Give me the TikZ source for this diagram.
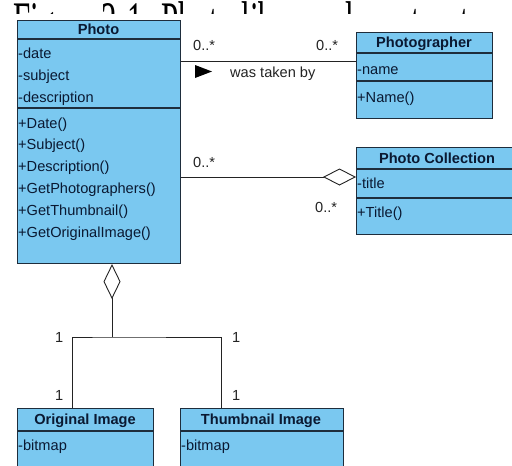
\documentclass[tikz,border=0pt]{standalone}
\usepackage{fontspec}
\setmainfont{Liberation Sans}
\newfontfamily\capfont{Liberation Serif}
\usetikzlibrary{arrows.meta}
\definecolor{clsfill}{RGB}{122,200,240}
\definecolor{clsline}{RGB}{30,45,60}
\definecolor{clstext}{RGB}{10,25,50}
\definecolor{linkcol}{RGB}{35,35,35}
\tikzset{
  cls/.style={draw=clsline, fill=clsfill, line width=1.1pt, inner sep=0pt, anchor=north west},
  compsep/.style={draw=clsline, line width=1.1pt},
  member/.style={anchor=base west, inner sep=0pt, text=clstext, font=\fontsize{14.6}{17}\selectfont},
  clstitle/.style={anchor=base, inner sep=0pt, text=clstext, font=\fontsize{14.6}{17}\selectfont\bfseries},
  link/.style={draw=linkcol, line width=0.9pt},
  mult/.style={anchor=base west, inner sep=0pt, text=linkcol, font=\fontsize{14.6}{17}\selectfont},
}
\begin{document}
\begin{tikzpicture}[x=1pt, y=-1pt]
\useasboundingbox (0,0) rectangle (512,466);
\clip (0,0) rectangle (512,466);
\fill[white] (0,0) rectangle (512,466);

% caption of the figure; only its upper strip shows above the diagram
\begin{scope}
  \clip (0,0) rectangle (512,13);
  \node[anchor=base west, inner sep=0pt, font=\capfont\fontsize{31}{36}\selectfont] (caption) at (13,42)
    {\smash{\scalebox{1}[1.9]{Figure 2-1. Photo library class structure}}};
\end{scope}

% ---- class Photo
\node[cls, minimum width=163pt, minimum height=243pt] (photo) at (17,20) {};
\draw[compsep] (17,39) -- (180,39);
\draw[compsep] (17,108) -- (180,108);
\node[clstitle] (photoT) at (98.5,34.5) {Photo};
\node[member] (pa1) at (18,58) {-date};
\node[member] (pa2) at (18,80) {-subject};
\node[member] (pa3) at (18,102) {-description};
\node[member] (pm1) at (18,128) {+Date()};
\node[member] (pm2) at (18,149.8) {+Subject()};
\node[member] (pm3) at (18,171.6) {+Description()};
\node[member] (pm4) at (18,193.4) {+GetPhotographers()};
\node[member] (pm5) at (18,215.2) {+GetThumbnail()};
\node[member] (pm6) at (18,237) {+GetOriginalImage()};

% ---- class Photographer
\node[cls, minimum width=136pt, minimum height=86pt] (pgr) at (356,32) {};
\draw[compsep] (356,53) -- (492,53);
\draw[compsep] (356,81) -- (492,81);
\node[clstitle] (pgrT) at (424,47.5) {Photographer};
\node[member] (pgra) at (357,74) {-name};
\node[member] (pgrm) at (357,102) {+Name()};

% ---- class Photo Collection
\node[cls, minimum width=164pt, minimum height=87pt] (pcol) at (356,147) {};
\draw[compsep] (356,169) -- (520,169);
\draw[compsep] (356,198) -- (520,198);
\node[clstitle] (pcolT) at (437,163) {Photo Collection};
\node[member] (pcola) at (357,188) {-title};
\node[member] (pcolm) at (357,217) {+Title()};

% ---- class Original Image
\node[cls, minimum width=136pt, minimum height=72pt] (orig) at (17,408) {};
\draw[compsep] (17,431) -- (153,431);
\node[clstitle] (origT) at (85,424.5) {Original Image};
\node[member] (origa) at (18,450) {-bitmap};

% ---- class Thumbnail Image
\node[cls, minimum width=163pt, minimum height=72pt] (thumb) at (180,408) {};
\draw[compsep] (180,431) -- (343,431);
\node[clstitle] (thumbT) at (261,424.5) {Thumbnail Image};
\node[member] (thumba) at (181,450) {-bitmap};

% ---- association: Photo was taken by Photographer
\draw[link] (photo.east |- 0,61) -- (pgr.west |- 0,61);
\node[mult] (m1) at (193,50) {0..*};
\node[mult] (m2) at (316,50) {0..*};
\fill[black] (195,65) -- (195,78) -- (212,71.5) -- cycle;
\node[mult] (assoc) at (230,77) {was taken by};

% ---- aggregation: Photo Collection holds Photos
\draw[link, -{Diamond[fill=white, length=33pt, width=17pt]}] (photo.east |- 0,177) -- (pcol.west |- 0,177);
\node[mult] (m3) at (193,167) {0..*};
\node[mult] (m4) at (315,212) {0..*};

% ---- Original Image and Thumbnail Image belong to Photo
\coordinate (j) at (112,337);
\draw[link, {Diamond[fill=white, length=35pt, width=17pt]}-] (photo.south -| j) -- (j);
\draw[link] (orig.north -| 72,0) |- (j) -| (thumb.north -| 221,0);
\node[mult] (m5) at (55,342) {1};
\node[mult] (m6) at (55,400) {1};
\node[mult] (m7) at (232,342) {1};
\node[mult] (m8) at (232,400) {1};
\end{tikzpicture}
\end{document}
